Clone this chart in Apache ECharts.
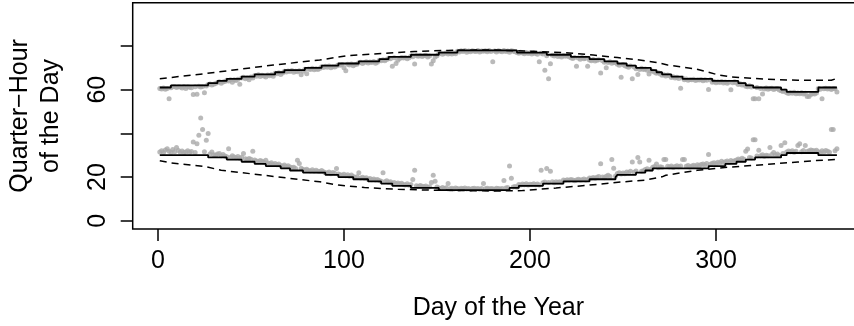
<!DOCTYPE html>
<html>
<head>
<meta charset="utf-8">
<script src="https://cdn.jsdelivr.net/npm/echarts@6/dist/echarts.min.js"></script>
<style>
  html, body { margin: 0; padding: 0; background: #fff; }
  #chart { width: 854px; height: 326px; }
</style>
</head>
<body>
<div id="chart"></div>
<script>
// tick positions / labels
const xTicks = [0, 100, 200, 300];
const yTicks = [0, 20, 40, 60, 80];
const yLabels = [0, 20, 60]; // 40 and 80 get a tick but no label

// gray points, one per day (day = index + 1), evening band
const upperObs = [
  60.5, 60.3, 60.8, 60.2, 60.6, 55.8, 60.9, 61.3, 61.5, 61.0,
  61.4, 61.2, 60.8, 61.5, 60.5, 61.3, 61.1, 60.9, 57.8, 61.4,
  57.9, 61.6, 61.2, 61.5, 58.6, 61.7, 62.4, 62.6, 62.1, 62.5,
  62.8, 63.3, 63.6, 63.0, 63.5, 63.8, 64.3, 64.0, 64.6, 63.4,
  64.5, 64.2, 64.8, 62.5, 65.4, 65.7, 65.0, 65.5, 64.6, 65.8,
  65.3, 66.5, 66.2, 66.8, 66.0, 66.6, 66.3, 65.8, 66.7, 66.4,
  66.9, 66.2, 67.5, 67.3, 67.8, 67.0, 67.6, 68.4, 68.1, 68.6,
  68.3, 68.8, 68.0, 68.5, 68.2, 68.7, 66.9, 68.4, 69.4, 67.3,
  69.5, 69.3, 69.8, 69.1, 69.6, 69.2, 69.7, 70.5, 70.2, 70.7,
  70.3, 70.8, 70.0, 70.6, 70.4, 70.9, 71.4, 71.2, 71.5, 70.0,
  68.7, 71.6, 71.3, 71.8, 71.0, 71.5, 71.7, 72.3, 72.6, 72.0,
  72.5, 72.8, 72.2, 72.7, 72.4, 72.9, 72.1, 72.6, 73.5, 73.2,
  73.7, 73.3, 73.8, 74.4, 74.2, 70.7, 74.6, 72.0, 73.5, 74.3,
  74.7, 74.5, 74.8, 74.2, 74.6, 75.4, 75.1, 71.8, 75.6, 75.3,
  75.7, 75.2, 75.5, 75.8, 75.0, 75.4, 71.8, 73.3, 75.0, 75.6,
  76.5, 76.8, 76.2, 76.6, 76.9, 76.4, 76.7, 76.3, 76.8, 76.5,
  77.6, 77.3, 77.8, 77.5, 77.9, 77.2, 77.7, 77.4, 77.8, 77.6,
  77.5, 77.9, 77.3, 77.7, 77.6, 77.8, 77.4, 77.9, 77.5, 72.8,
  77.7, 77.3, 77.8, 77.6, 77.4, 77.9, 77.5, 77.7, 77.2, 77.8,
  77.6, 77.4, 77.0, 76.7, 77.1, 76.8, 76.5, 77.0, 76.6, 76.9,
  76.4, 76.8, 76.6, 76.2, 72.8, 76.7, 76.3, 68.9, 75.6, 65.0,
  71.9, 75.8, 75.4, 75.9, 75.2, 75.6, 75.0, 75.7, 75.3, 75.5,
  75.1, 74.6, 74.3, 74.8, 70.7, 74.5, 74.0, 74.7, 74.2, 74.4,
  70.7, 73.6, 73.3, 73.8, 73.1, 73.5, 73.7, 67.7, 73.2, 72.6,
  70.0, 72.4, 72.8, 72.1, 72.5, 72.3, 71.6, 71.2, 65.7, 71.5,
  71.0, 70.6, 70.3, 70.8, 65.0, 70.4, 69.6, 67.0, 69.3, 69.8,
  69.2, 69.5, 68.9, 67.2, 68.7, 68.4, 68.0, 67.5, 67.8, 67.2,
  66.6, 66.9, 66.3, 66.7, 66.4, 65.6, 65.9, 65.3, 65.7, 65.1,
  60.7, 65.4, 64.6, 64.9, 64.3, 64.7, 64.5, 64.8, 64.2, 64.6,
  64.4, 64.7, 64.1, 64.5, 64.3, 60.1, 64.6, 63.4, 63.7, 63.2,
  63.6, 63.3, 63.8, 63.1, 63.5, 63.0, 63.4, 60.0, 63.2, 63.6,
  63.1, 62.4, 62.7, 62.2, 62.5, 61.6, 61.3, 61.8, 61.2, 55.8,
  55.8, 61.0, 55.9, 60.6, 58.0, 60.3, 60.8, 60.2, 60.5, 60.7,
  60.1, 60.4, 60.6, 59.9, 59.5, 59.2, 59.4, 58.6, 58.3, 58.7,
  58.4, 58.8, 58.1, 58.5, 58.2, 58.6, 58.0, 58.4, 56.9, 56.9,
  57.8, 58.3, 58.0, 58.5, 60.6, 60.2, 55.8, 60.4, 60.7, 60.3,
  60.5, 60.1, 60.6, 60.4, 58.9
];

// gray points, morning band
const lowerObs = [
  31.5, 32.0, 31.2, 32.4, 33.0, 31.8, 31.3, 32.6, 31.6, 33.5,
  32.2, 31.4, 31.9, 31.2, 31.5, 32.0, 31.3, 31.7, 36.0, 31.2,
  35.3, 39.1, 47.0, 41.8, 31.6, 36.8, 39.9, 30.6, 31.5, 30.2,
  30.0, 30.5, 30.8, 29.8, 30.3, 29.6, 29.3, 33.0, 29.0, 29.7,
  29.2, 28.8, 29.4, 28.6, 29.1, 30.8, 28.4, 28.0, 28.5, 28.2,
  31.8, 27.8, 27.4, 27.0, 27.6, 27.2, 26.8, 27.7, 26.4, 26.1,
  26.5, 25.8, 26.2, 25.6, 26.0, 25.3, 25.0, 25.5, 24.8, 25.2,
  24.6, 24.2, 24.5, 23.9, 27.7, 26.2, 24.0, 23.5, 23.2, 23.6,
  23.0, 22.8, 23.3, 22.6, 23.1, 22.7, 22.5, 23.0, 22.4, 22.0,
  21.8, 22.3, 21.5, 22.1, 21.7, 23.9, 21.4, 21.0, 20.8, 21.3,
  20.6, 21.0, 20.4, 20.9, 20.2, 19.8, 20.1, 22.0, 19.6, 19.9,
  19.4, 19.7, 19.0, 19.3, 18.8, 19.1, 18.6, 18.9, 18.4, 18.1,
  22.0, 17.8, 18.3, 17.6, 17.9, 17.2, 17.5, 16.9, 17.3, 16.8,
  17.1, 16.6, 16.4, 16.9, 16.2, 16.6, 18.9, 23.1, 16.0, 15.7,
  16.1, 15.8, 15.5, 15.9, 15.3, 15.6, 17.5, 20.8, 18.1, 15.4,
  15.0, 14.8, 15.2, 14.7, 15.1, 17.0, 14.6, 14.9, 14.5, 15.0,
  14.7, 14.4, 14.9, 14.6, 15.0, 14.5, 14.8, 14.3, 14.7, 14.9,
  14.5, 14.8, 14.4, 14.7, 17.0, 14.6, 14.9, 14.5, 14.8, 14.6,
  14.4, 14.9, 14.7, 14.5, 14.8, 18.4, 15.0, 15.2, 25.0, 19.5,
  15.4, 15.7, 15.3, 16.6, 16.3, 16.8, 16.5, 16.9, 16.4, 16.7,
  16.6, 16.9, 16.5, 16.8, 16.4, 23.1, 17.4, 17.7, 23.9, 17.5,
  22.7, 17.8, 17.4, 17.9, 17.6, 17.8, 17.5, 18.6, 18.4, 18.8,
  18.5, 18.9, 18.6, 18.3, 18.7, 19.0, 18.6, 18.8, 19.1, 18.7,
  18.9, 19.6, 19.4, 19.8, 19.5, 19.9, 20.3, 26.1, 20.0, 19.7,
  20.4, 20.8, 20.2, 28.0, 24.0, 20.5, 21.6, 22.0, 21.4, 21.8,
  21.5, 22.3, 21.9, 22.6, 26.9, 22.2, 22.8, 28.9, 26.9, 22.7,
  22.9, 23.5, 23.8, 27.7, 23.6, 24.5, 24.8, 26.0, 24.3, 24.7,
  24.5, 28.0, 28.0, 24.9, 24.6, 25.0, 24.4, 24.8, 25.2, 24.7,
  25.1, 28.0, 28.0, 24.9, 25.3, 24.6, 25.0, 25.4, 24.8, 25.6,
  25.2, 25.8, 26.0, 25.5, 26.2, 30.3, 25.9, 26.3, 26.6, 26.1,
  26.8, 26.4, 27.2, 26.7, 27.0, 27.4, 26.8, 27.6, 27.1, 27.5,
  27.8, 28.3, 27.9, 28.6, 28.2, 31.8, 32.8, 29.0, 28.7, 37.1,
  37.1, 29.6, 32.3, 29.8, 30.2, 29.5, 30.0, 29.7, 33.5, 30.3,
  31.2, 30.1, 30.5, 29.9, 34.5, 30.8, 35.7, 31.5, 31.9, 31.6,
  32.0, 31.4, 31.8, 34.5, 35.3, 31.6, 32.2, 34.5, 31.7, 32.0,
  32.4, 32.1, 31.9, 32.3, 31.6, 31.2, 32.0, 31.5, 32.2, 31.8,
  31.4, 41.8, 41.8, 32.0, 33.0
];

// black step lines: [day where the level starts, level]
const upperStep = [
  [1, 61], [7, 62], [27, 63], [32, 64], [37, 65], [45, 66], [52, 67], [63, 68],
  [68, 69], [79, 70], [88, 71], [97, 72], [108, 73], [119, 74], [124, 75],
  [136, 76], [151, 77], [161, 78], [193, 77], [209, 76], [222, 75], [232, 74],
  [240, 73], [247, 72], [252, 71], [257, 70], [265, 69], [268, 68], [271, 67],
  [276, 66], [282, 65], [298, 64], [312, 63], [316, 62], [320, 61], [335, 60],
  [338, 59], [355, 61], [365, 61]
];
const lowerStep = [
  [1, 30], [27, 29], [37, 28], [45, 27], [52, 26], [58, 25], [66, 24], [71, 23],
  [78, 22], [90, 21], [97, 20], [105, 19], [113, 18], [120, 17], [126, 16],
  [136, 15], [151, 14], [189, 15], [194, 16], [207, 17], [218, 18], [232, 19],
  [246, 20], [247, 21], [257, 22], [262, 23], [266, 24], [296, 25], [305, 26],
  [311, 27], [316, 28], [321, 29], [335, 30], [338, 31], [355, 30], [365, 30]
];

// dashed bounds
const upperBound = [
  [1, 65.0], [7, 65.6], [25, 67.3], [45, 69.5], [62, 71.3], [87, 73.6], [102, 75.6],
  [120, 76.6], [138, 77.5], [156, 78.0], [178, 78.2], [202, 77.6], [221, 76.8],
  [234, 75.9], [247, 74.7], [257, 73.8], [268, 72.5], [274, 71.3], [282, 70.3],
  [289, 69.5], [296, 68.0], [301, 66.8], [308, 65.9], [326, 64.8], [344, 64.3],
  [362, 64.3], [365, 65.2]
];
const lowerBound = [
  [1, 27.5], [7, 26.5], [25, 24.9], [34, 23.1], [45, 22.0], [63, 20.2], [87, 17.8],
  [97, 16.3], [111, 15.2], [129, 14.4], [147, 14.0], [181, 13.6], [196, 13.8],
  [214, 15.0], [232, 16.3], [250, 17.8], [262, 18.6], [271, 20.1], [273, 20.8],
  [290, 23.1], [308, 24.6], [326, 25.7], [344, 26.9], [353, 27.5], [365, 28.1]
];

const font = '"Liberation Sans", Arial, Helvetica, sans-serif';
const chart = echarts.init(document.getElementById('chart'), null, { renderer: 'canvas' });

function byDay(arr) {
  return arr.map((v, i) => [i + 1, v]);
}

const option = {
  animation: false,
  backgroundColor: '#fff',
  grid: {
    show: true,
    left: 132.7,
    top: 2.7,
    width: 731.3,
    height: 226.4,
    borderColor: '#000',
    borderWidth: 1.5,
    containLabel: false,
    outerBoundsMode: 'none'
  },
  xAxis: {
    type: 'value',
    min: -13.56,
    max: 379.56,
    name: 'Day of the Year',
    nameLocation: 'middle',
    nameGap: 67,
    nameTextStyle: { fontFamily: font, fontSize: 25, color: '#000' },
    axisLine: { show: false, onZero: false },
    splitLine: { show: false },
    axisTick: {
      show: true,
      customValues: xTicks,
      length: 12,
      lineStyle: { color: '#000', width: 1.5 }
    },
    axisLabel: {
      customValues: xTicks,
      margin: 20,
      fontFamily: font,
      fontSize: 25,
      color: '#000'
    }
  },
  yAxis: {
    type: 'value',
    min: -3.84,
    max: 99.84,
    name: 'Quarter\u2212Hour\nof the Day',
    nameLocation: 'middle',
    nameRotate: 90,
    nameGap: 66,
    nameTextStyle: { fontFamily: font, fontSize: 25, color: '#000', lineHeight: 31 },
    axisLine: { show: false, onZero: false },
    splitLine: { show: false },
    axisTick: {
      show: true,
      customValues: yTicks,
      length: 12,
      lineStyle: { color: '#000', width: 1.5 }
    },
    axisLabel: {
      customValues: yLabels,
      rotate: 90,
      margin: 22,
      fontFamily: font,
      fontSize: 25,
      color: '#000'
    }
  },
  series: [
    {
      type: 'scatter',
      data: byDay(upperObs),
      symbolSize: 5,
      itemStyle: { color: '#a9a9a9' },
      z: 1
    },
    {
      type: 'scatter',
      data: byDay(lowerObs),
      symbolSize: 5,
      itemStyle: { color: '#a9a9a9' },
      z: 1
    },
    {
      type: 'line',
      data: upperStep,
      step: 'end',
      showSymbol: false,
      lineStyle: { color: '#000', width: 1.8 },
      z: 3
    },
    {
      type: 'line',
      data: lowerStep,
      step: 'end',
      showSymbol: false,
      lineStyle: { color: '#000', width: 1.8 },
      z: 3
    },
    {
      type: 'line',
      data: upperBound,
      showSymbol: false,
      lineStyle: { color: '#000', width: 1.5, type: [7, 5] },
      z: 3
    },
    {
      type: 'line',
      data: lowerBound,
      showSymbol: false,
      lineStyle: { color: '#000', width: 1.5, type: [7, 5] },
      z: 3
    }
  ]
};

option && chart.setOption(option);
</script>
</body>
</html>
